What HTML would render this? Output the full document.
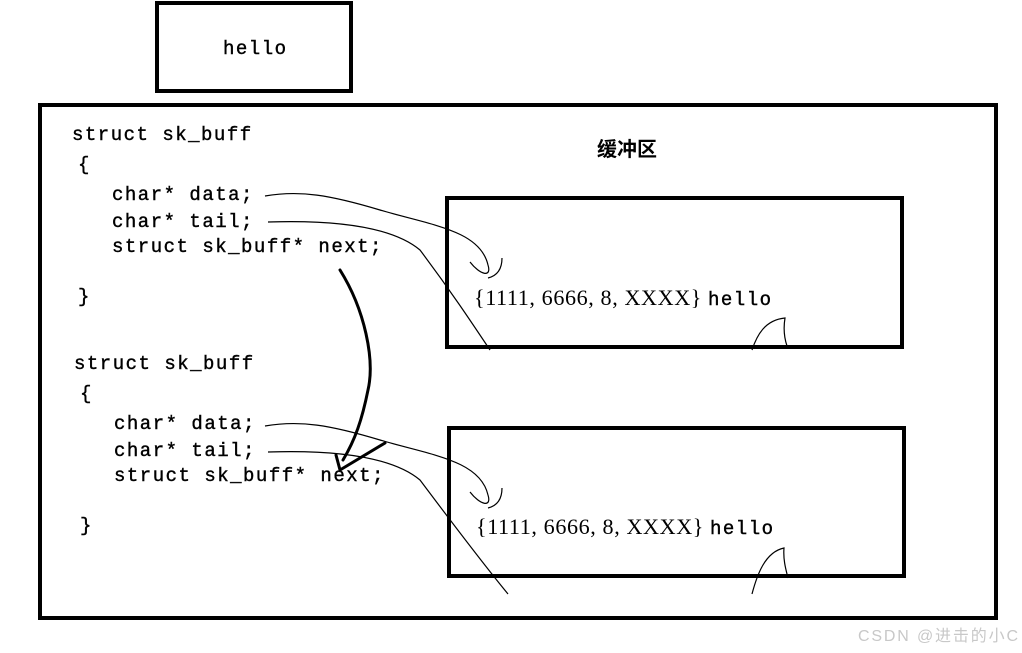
<!DOCTYPE html>
<html><head><meta charset="utf-8"><style>
body{margin:0;background:#fff;width:1022px;height:653px;overflow:hidden}
svg{display:block}
.c{font-family:"Liberation Mono",monospace;font-size:19px;letter-spacing:1.5px;fill:#000;stroke:#000;stroke-width:0.4}
.s{font-family:"Liberation Serif","Noto Serif CJK SC",serif;font-size:22px;letter-spacing:0.6px;fill:#000}
</style></head><body>
<svg width="1022" height="653" viewBox="0 0 1022 653">
<g fill="none" stroke="#000" stroke-width="4">
<rect x="157" y="3" width="194" height="88"/>
<rect x="40" y="105" width="956" height="513"/>
<rect x="447" y="198" width="455" height="149"/>
<rect x="449" y="428" width="455" height="148"/>
</g>
<text x="223" y="54" class="c">hello</text>
<text x="597" y="156" font-family="Noto Sans CJK SC,sans-serif" font-size="20" font-weight="bold">缓冲区</text>
<text x="72" y="140" class="c">struct sk_buff</text>
<text x="78" y="170" class="c">{</text>
<text x="112" y="200" class="c">char* data;</text>
<text x="112" y="227" class="c">char* tail;</text>
<text x="112" y="252" class="c">struct sk_buff* next;</text>
<text x="78" y="302" class="c">}</text>
<text x="74" y="369" class="c">struct sk_buff</text>
<text x="80" y="399" class="c">{</text>
<text x="114" y="429" class="c">char* data;</text>
<text x="114" y="456" class="c">char* tail;</text>
<text x="114" y="481" class="c">struct sk_buff* next;</text>
<text x="80" y="531" class="c">}</text>
<text x="474" y="305" class="s" textLength="228" lengthAdjust="spacingAndGlyphs">{1111, 6666, 8, XXXX}</text>
<text x="708" y="305" class="c">hello</text>
<text x="476" y="534" class="s" textLength="228" lengthAdjust="spacingAndGlyphs">{1111, 6666, 8, XXXX}</text>
<text x="710" y="534" class="c">hello</text>
<g fill="none" stroke="#000" stroke-width="1.2">
<path d="M265 196 C300 190 330 195 380 210 C430 225 480 230 488 265 C492 278 480 275 470 262 M488 278 C500 275 502 265 502 258"/>
<path d="M268 222 C330 220 390 225 420 250 C450 290 470 320 490 350"/>
<path d="M752 350 C757 335 765 320 785 318 C783 330 785 340 787 346"/>
<path d="M265 426 C300 420 330 425 380 440 C430 455 480 460 488 495 C492 508 480 505 470 492 M488 508 C500 505 502 495 502 488"/>
<path d="M268 452 C330 450 390 455 420 480 C450 520 480 560 508 594"/>
<path d="M752 594 C757 575 765 552 784 548 C783 560 786 570 788 578"/>
</g>
<g fill="none" stroke="#000" stroke-width="3" stroke-linecap="round">
<path d="M340 270 C365 310 375 360 368 390 C362 420 355 440 343 460"/>
<path d="M336 455 L340 470 L385 443"/>
</g>
<text x="858" y="641" font-family="Liberation Sans,Noto Sans CJK SC,sans-serif" font-size="16" fill="#c8c8c8" textLength="160">CSDN @进击的小C</text>
</svg>
</body></html>
